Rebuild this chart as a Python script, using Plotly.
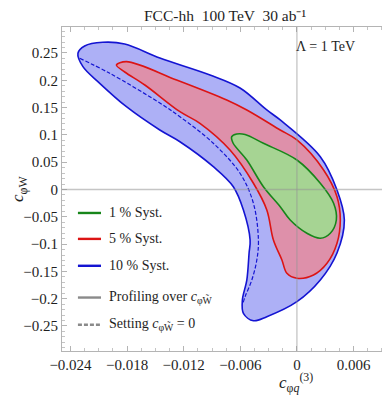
import plotly.graph_objects as go

# ---- data ----
blue_x = [-0.02321, -0.02250, -0.02058, -0.01825, -0.01453, -0.00921, -0.00603, -0.00319, -0.00177,
          0.00248, 0.00425, 0.00503, 0.00425, 0.00248, 0.0, -0.00319, -0.00461, -0.00567, -0.00578,
          -0.00531, -0.00507, -0.00496, -0.00567, -0.00674, -0.00886, -0.01240, -0.01453, -0.01807,
          -0.02090, -0.02268]
blue_y = [0.2495, 0.2628, 0.2696, 0.2665, 0.2408, 0.2097, 0.1859, 0.1456, 0.1273,
          0.0601, -0.0009, -0.0559, -0.1163, -0.1658, -0.2055, -0.2330, -0.2403, -0.2267, -0.2024,
          -0.1658, -0.1163, -0.0925, -0.0375, 0.0051, 0.0418, 0.0875, 0.1090, 0.1516,
          0.1945, 0.2249]

dash_x = [-0.02303, -0.01984, -0.01453, -0.01240, -0.00886, -0.00603, -0.00461, -0.00408, -0.00425,
          -0.00478, -0.00549, -0.00571]
dash_y = [0.2403, 0.2128, 0.1584, 0.1333, 0.0846, 0.0297, -0.0253, -0.0925, -0.1291,
          -0.1658, -0.1963, -0.2079]

red_x = [-0.01913, -0.01807, -0.01275, -0.00744, -0.00531, -0.00177, 0.0, 0.00283, 0.00425, 0.00460,
         0.00425, 0.00319, 0.00176, 0.0, -0.00106, -0.00159, -0.00249, -0.00319, -0.00461, -0.00709,
         -0.01028, -0.01240, -0.01612, -0.01825]
red_y = [0.2280, 0.2341, 0.2005, 0.1639, 0.1456, 0.1090, 0.0907, 0.0357, -0.0132, -0.0559,
         -0.0985, -0.1352, -0.1566, -0.1626, -0.1535, -0.1291, -0.0925, -0.0375, 0.0114, 0.0723,
         0.1212, 0.1425, 0.1914, 0.2152]

green_x = [-0.00691, -0.00638, -0.00549, -0.00355, 0.0, 0.00248, 0.00389, 0.00418, 0.00354, 0.00248,
           0.00106, -0.00071, -0.00177, -0.00355, -0.00531, -0.00677]
green_y = [0.0967, 0.1016, 0.1007, 0.0846, 0.0540, 0.0114, -0.0253, -0.0559, -0.0802, -0.0894,
           -0.0802, -0.0559, -0.0315, 0.0051, 0.0540, 0.0852]

x_ticks = [-0.024, -0.018, -0.012, -0.006, 0, 0.006]
x_ticktext = ["\u22120.024", "\u22120.018", "\u22120.012", "\u22120.006", "0", "0.006"]
y_ticks = [0.25, 0.2, 0.15, 0.1, 0.05, 0, -0.05, -0.1, -0.15, -0.2, -0.25]
y_ticktext = ["0.25", "0.2", "0.15", "0.1", "0.05", "0", "\u22120.05", "\u22120.1", "\u22120.15",
              "\u22120.2", "\u22120.25"]

legend_labels = ["1 % Syst.", "5 % Syst.", "10 % Syst.",
                 "Profiling over <i>c</i><sub>φW\u0303</sub>",
                 "Setting <i>c</i><sub>φW\u0303</sub> = 0"]

BLUE_LINE, BLUE_FILL = "#1414d2", "#adb0f6"
RED_LINE, RED_FILL = "#dc1414", "#de90aa"
GREEN_LINE, GREEN_FILL = "#17861a", "#a6d493"
FONT = "Liberation Serif"
TXT = "#1e1e1e"


def closed(a):
    return list(a) + [a[0]]


fig = go.Figure()
for xs, ys, lc, fc in [(blue_x, blue_y, BLUE_LINE, BLUE_FILL),
                       (red_x, red_y, RED_LINE, RED_FILL),
                       (green_x, green_y, GREEN_LINE, GREEN_FILL)]:
    fig.add_trace(go.Scatter(x=closed(xs), y=closed(ys), mode="lines", fill="toself",
                             fillcolor=fc, line=dict(color=lc, width=1.6, shape="spline",
                                                     smoothing=1.0),
                             hoverinfo="skip", showlegend=False))
fig.add_trace(go.Scatter(x=dash_x, y=dash_y, mode="lines",
                         line=dict(color=BLUE_LINE, width=1.2, dash="4px,2px", shape="spline",
                                   smoothing=1.0),
                         hoverinfo="skip", showlegend=False))

axis_common = dict(showgrid=False, zeroline=False, showline=True, linecolor="#b4b4b4",
                   linewidth=1, mirror="allticks", ticks="inside", ticklen=5, tickcolor="#b4b4b4",
                   tickfont=dict(family=FONT, size=15, color=TXT))
fig.update_xaxes(range=[-0.0249, 0.00955], tickvals=x_ticks, ticktext=x_ticktext,
                 minor=dict(ticks="inside", ticklen=3, dtick=0.0015, tickcolor="#c4c4c4"),
                 **axis_common)
fig.update_yaxes(range=[-0.2958, 0.2976], tickvals=y_ticks, ticktext=y_ticktext,
                 minor=dict(ticks="inside", ticklen=3, dtick=0.01, tickcolor="#c4c4c4"),
                 **axis_common)

shapes = [
    dict(type="line", xref="x", yref="paper", x0=0, x1=0, y0=0, y1=1,
         line=dict(color="rgba(150,150,150,0.55)", width=1.3), layer="above"),
    dict(type="line", xref="paper", yref="y", x0=0, x1=1, y0=0, y1=0,
         line=dict(color="rgba(150,150,150,0.55)", width=1.3), layer="above"),
]
leg_y = [0.426, 0.346, 0.263, 0.165, 0.081]
leg_col = [GREEN_LINE, RED_LINE, BLUE_LINE, "#8a8a8a", "#8a8a8a"]
leg_dash = ["solid", "solid", "solid", "solid", "4px,2px"]
for yy, c, d in zip(leg_y, leg_col, leg_dash):
    shapes.append(dict(type="line", xref="paper", yref="paper", x0=0.049, x1=0.120, y0=yy, y1=yy,
                       line=dict(color=c, width=2.4, dash=d)))

annotations = []
for yy, t in zip(leg_y, legend_labels):
    annotations.append(dict(xref="paper", yref="paper", x=0.138, y=yy, text=t, showarrow=False,
                            xanchor="left", yanchor="middle",
                            font=dict(family=FONT, size=14, color=TXT)))
annotations += [
    dict(xref="paper", yref="paper", x=0.81, y=0.941, text="Λ = 1 TeV", showarrow=False,
         xanchor="center", yanchor="middle", font=dict(family=FONT, size=14, color=TXT)),
    dict(xref="paper", yref="paper", x=0.5, y=1.0, yshift=1,
         text="FCC-hh  100 TeV  30 ab\u207b\u00b9",
         showarrow=False, xanchor="center", yanchor="bottom",
         font=dict(family=FONT, size=15.5, color=TXT)),
    dict(xref="paper", yref="paper", x=0.72, y=0.0, yshift=-31,
         text="<i>c</i><sub>φ<i>q</i></sub><sup>(3)</sup>", showarrow=False,
         xanchor="center", yanchor="middle", font=dict(family=FONT, size=17, color=TXT)),
    dict(xref="paper", yref="paper", x=0.0, xshift=-43, y=0.5,
         text="<i>c</i><sub>φW</sub>", showarrow=False, textangle=-90,
         xanchor="center", yanchor="middle", font=dict(family=FONT, size=17, color=TXT)),
]

# page body has an 8px default margin; margins compensate so the plot lands where the reference has it
fig.update_layout(width=390, height=404, margin=dict(l=54, r=11, t=19, b=61),
                  paper_bgcolor="white", plot_bgcolor="white", shapes=shapes,
                  annotations=annotations, showlegend=False)
fig.write_html("out.html")
